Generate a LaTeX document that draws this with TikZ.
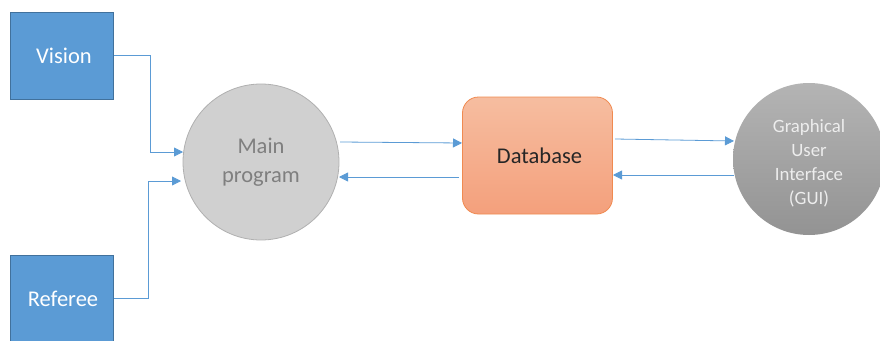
\documentclass[tikz,border=0pt]{standalone}
\usepackage{fontspec}
\setmainfont{Carlito}
\usetikzlibrary{arrows.meta}
\definecolor{boxblue}{HTML}{5B9BD5}
\definecolor{boxblueline}{HTML}{41719C}
\definecolor{arrowblue}{HTML}{5B9BD5}
\definecolor{maingray}{HTML}{D0D0D0}
\definecolor{mainline}{HTML}{B0B0B0}
\definecolor{maintext}{HTML}{7F7F7F}
\definecolor{dbtop}{HTML}{F6BDA0}
\definecolor{dbbot}{HTML}{F4A07C}
\definecolor{dbline}{HTML}{F08A50}
\definecolor{guitop}{HTML}{B4B4B4}
\definecolor{guibot}{HTML}{939393}
\definecolor{guitext}{HTML}{EDEDED}
\begin{document}
\begin{tikzpicture}[x=1pt,y=-1pt,
  srcbox/.style={draw=boxblueline,line width=1pt,fill=boxblue,minimum width=103pt,minimum height=87pt,inner sep=0pt,text=white,font=\fontsize{22.5}{27}\selectfont},
  mainc/.style={circle,draw=mainline,line width=0.8pt,fill=maingray,minimum size=156pt,inner sep=0pt,text=maintext,align=center,font=\fontsize{22.5}{29}\selectfont},
  dbbox/.style={rounded corners=16pt,draw=dbline,line width=0.8pt,top color=dbtop,bottom color=dbbot,minimum width=150pt,minimum height=117pt,inner sep=0pt,font=\fontsize{22.5}{27}\selectfont,text=black!85},
  guic/.style={circle,top color=guitop,bottom color=guibot,draw=none,minimum size=152pt,inner sep=0pt},
  guilab/.style={text=guitext,align=center,inner sep=0pt,font=\fontsize{18.8}{24}\selectfont},
  flow/.style={draw=arrowblue,line width=0.8pt,-{Triangle[length=9pt,width=9pt]}}]
\useasboundingbox (0,0) rectangle (880,340);
\node[srcbox] (vision) at (61.5,55.5) {\hspace*{5pt}Vision};
\node[srcbox] (referee) at (61.5,298.5) {\hspace*{3pt}Referee};
\node[mainc] (main) at (261,162) {Main\\program};
\node[dbbox] (db) at (537.5,155.5) {\hspace*{4pt}Database};
\node[guic] (gui) at (809,159) {};
\node[guilab] (guitxt) at ([yshift=-4pt]gui.center) {Graphical\\User\\Interface\\(GUI)};
% elbow points and arrow ends
\coordinate (v1) at (150,55.5);
\coordinate (vtip) at (183,152);
\coordinate (r1) at (148,298.5);
\coordinate (rtip) at (181,181);
\coordinate (m2d) at (340,142);
\coordinate (m2dtip) at (462,143);
\coordinate (d2m) at (459,177);
\coordinate (d2mtip) at (339,177);
\coordinate (d2g) at (615,139);
\coordinate (d2gtip) at (734,141);
\coordinate (g2d) at (734,175);
\coordinate (g2dtip) at (613,175);
\draw[flow] (vision.east) -- (v1) |- (vtip);
\draw[flow] (referee.east) -- (r1) |- (rtip);
\draw[flow] (m2d) -- (m2dtip);
\draw[flow] (d2m) -- (d2mtip);
\draw[flow] (d2g) -- (d2gtip);
\draw[flow] (g2d) -- (g2dtip);
\end{tikzpicture}
\end{document}
